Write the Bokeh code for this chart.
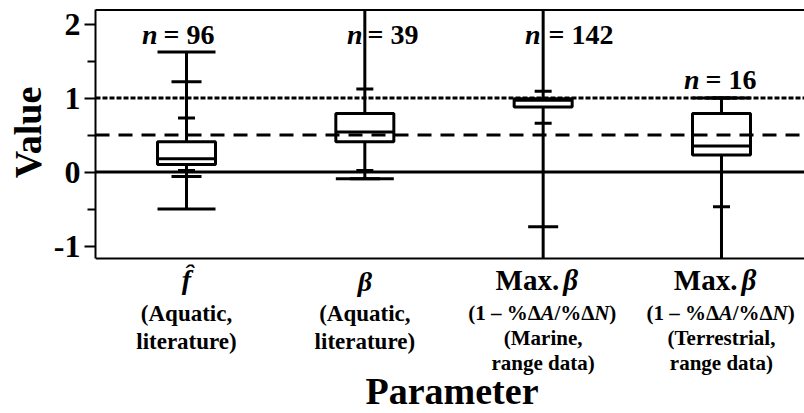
import numpy as np
from bokeh.plotting import figure
from bokeh.layouts import column
from bokeh.models import ColumnDataSource, Span, Label, FixedTicker, Range1d
from bokeh.embed import file_html
from bokeh.resources import INLINE

# ---------------- data ----------------
positions = [1, 2, 3, 4]
n_values = ["96", "39", "142", "16"]
q1 = [0.10, 0.41, 0.88, 0.23]
median = [0.18, 0.54, 0.97, 0.35]
q3 = [0.41, 0.79, 0.99, 0.79]
# whisker ends (values beyond the axis range are not readable; they run off the plot)
whisker_low = [-0.50, -0.09, -1.50, -1.50]
whisker_high = [1.62, 2.40, 2.40, 1.00]
p5 = [-0.06, -0.09, -0.74, -1.40]
p95 = [1.22, 2.30, 2.30, 1.00]
p10 = [0.02, 0.02, 0.66, -0.47]
p90 = [0.73, 1.12, 1.09, 1.00]
ref_zero = 0.0
ref_half = 0.5
ref_one = 1.0
y_ticks = [-1, 0, 1, 2]
y_minor = [-0.5, 0.5, 1.5]
y_tick_labels = {-1: "-1", 0: "0", 1: "1", 2: "2"}
aquatic_lines = ["(Aquatic,", "literature)"]
marine_lines = ["(Marine,", "range data)"]
terr_lines = ["(Terrestrial,", "range data)"]

# ---------------- layout helpers ----------------
FONT = "Liberation Serif"
PX_X = 178.33   # px per x unit
PX_Y = 74.0     # px per y unit
FRAME_LEFT = 95
W = 804
H_TOP = 264
H_BOT = 413 - H_TOP
X0 = positions[0] - (186 - FRAME_LEFT) / PX_X
X1 = X0 + (W - FRAME_LEFT) / PX_X
Y1 = 171.5 / PX_Y
Y0 = Y1 - H_TOP / PX_Y
BASE_SHIFT = 0.38  # Bokeh places the alphabetic baseline somewhat lower


def px2x(px):
    return X0 + (px - FRAME_LEFT) / PX_X


def px2y(py):
    return Y1 - py / PX_Y


yb_lo, yb_hi = px2y(258), px2y(9)


def visible(vals):
    return [v if yb_lo <= v <= yb_hi else np.nan for v in vals]


def clipped(vals):
    return list(np.clip(np.array(vals, dtype=float), yb_lo, yb_hi))


# ---------------- main plot ----------------
p = figure(width=W, height=H_TOP, x_range=Range1d(X0, X1), y_range=Range1d(Y0, Y1),
           output_backend="svg", toolbar_location=None, x_axis_location=None,
           min_border_left=FRAME_LEFT, min_border_right=0, min_border_top=0,
           min_border_bottom=0)
p.title.visible = False
p.outline_line_color = None
p.xgrid.visible = False
p.ygrid.visible = False

ax = p.yaxis[0]
ax.ticker = FixedTicker(ticks=y_ticks, minor_ticks=y_minor)
ax.bounds = (yb_lo, yb_hi)
ax.major_label_overrides = y_tick_labels
ax.axis_line_width = 2
ax.axis_line_color = "black"
ax.major_tick_out = 11
ax.major_tick_in = 0
ax.minor_tick_out = 8
ax.minor_tick_in = 0
ax.major_tick_line_width = 2
ax.minor_tick_line_width = 2
ax.major_label_text_font = FONT
ax.major_label_text_font_style = "bold"
ax.major_label_text_font_size = "32px"
ax.major_label_text_color = "black"
ax.major_label_standoff = 4
ax.axis_label = "Value"
ax.axis_label_text_font = FONT
ax.axis_label_text_font_style = "bold"
ax.axis_label_text_font_size = "38px"
ax.axis_label_text_color = "black"
ax.axis_label_standoff = 2

# reference lines and frame lines
p.add_layout(Span(location=ref_zero, dimension="width", line_color="black", line_width=3))
p.add_layout(Span(location=ref_one, dimension="width", line_color="black", line_width=3,
                  line_dash="5 2"))
p.add_layout(Span(location=ref_half, dimension="width", line_color="black", line_width=3,
                  line_dash="14 9"))
p.add_layout(Span(location=px2y(9.5), dimension="width", line_color="black", line_width=2))
p.add_layout(Span(location=px2y(258), dimension="width", line_color="black", line_width=2))

BOX_HW = 29 / PX_X
MED_HW = 15 / PX_X
SHORT_HW = 8.5 / PX_X

src = ColumnDataSource(dict(
    x=positions, q1=q1, q3=q3, med=median,
    lo=clipped(whisker_low), hi=clipped(whisker_high),
    lo_cap=visible(whisker_low), hi_cap=visible(whisker_high),
    p5=visible(p5), p95=visible(p95), p10=visible(p10), p90=visible(p90),
    bl=[v - BOX_HW for v in positions], br=[v + BOX_HW for v in positions],
    ml=[v - MED_HW for v in positions], mr=[v + MED_HW for v in positions],
    sl=[v - SHORT_HW for v in positions], sr=[v + SHORT_HW for v in positions],
))

LW = 3
kw = dict(source=src, line_color="black", line_width=LW)
p.segment(x0="x", y0="q3", x1="x", y1="hi", **kw)
p.segment(x0="x", y0="q1", x1="x", y1="lo", **kw)
p.segment(x0="bl", y0="hi_cap", x1="br", y1="hi_cap", **kw)
p.segment(x0="bl", y0="lo_cap", x1="br", y1="lo_cap", **kw)
p.segment(x0="ml", y0="p95", x1="mr", y1="p95", **kw)
p.segment(x0="ml", y0="p5", x1="mr", y1="p5", **kw)
p.segment(x0="sl", y0="p90", x1="sr", y1="p90", **kw)
p.segment(x0="sl", y0="p10", x1="sr", y1="p10", **kw)
p.quad(left="bl", right="br", bottom="q1", top="q3", fill_alpha=0.0, **kw)
p.segment(x0="bl", y0="med", x1="br", y1="med", **kw)


def lab(fig, x, y, text, size, style="bold", align="center"):
    fig.add_layout(Label(x=x, y=y, text=text, text_font=FONT, text_font_style=style,
                         text_font_size="%dpx" % size, text_align=align,
                         text_baseline="alphabetic", text_color="black"))


# n labels (baselines in page px)
n_right_px = [157, 362, 540, 699]
eq_left_px = [163, 367, 548, 705]
n_base_px = [42, 42, 42, 87]
for nv, r, l, b in zip(n_values, n_right_px, eq_left_px, n_base_px):
    yy = px2y(b + 2.5 - BASE_SHIFT * 28)
    lab(p, px2x(r), yy, "n", 28, "bold italic", "right")
    lab(p, px2x(l), yy, "= " + nv, 28, "bold", "left")

# ---------------- category labels panel (frames are aligned by the column) ----------------
q = figure(width=W, height=H_BOT, x_range=p.x_range,
           y_range=Range1d(H_BOT, 0), output_backend="svg", toolbar_location=None,
           x_axis_location=None, y_axis_location=None,
           min_border_left=FRAME_LEFT, min_border_right=0, min_border_top=0,
           min_border_bottom=0)
q.title.visible = False
q.outline_line_color = None
q.xgrid.visible = False
q.ygrid.visible = False


def by(py, size, extra=0.0):
    return py + 4 - H_TOP - BASE_SHIFT * size - extra


cx_px = [FRAME_LEFT + (v - X0) * PX_X for v in positions]
lab(q, positions[0], by(287, 28, 1.5), "f\u0302", 28, "bold italic")
lab(q, positions[1], by(288, 28), "\u03b2", 28, "bold italic")
for i in (0, 1):
    lab(q, positions[i], by(318, 23), aquatic_lines[0], 23)
    lab(q, positions[i], by(346, 23), aquatic_lines[1], 23)

piece_texts = ["(1 \u2013 %\u0394", "A", "/%\u0394", "N", ")"]
piece_styles = ["bold", "bold italic", "bold", "bold italic", "bold"]
piece_offsets = [0, 72.3, 86.3, 126.0, 141.2]
for i, lines in ((2, marine_lines), (3, terr_lines)):
    c = cx_px[i]
    lab(q, px2x(c + 16), by(287, 29), "Max.", 29, "bold", "right")
    lab(q, px2x(c + 20), by(287, 29), "\u03b2", 29, "bold italic", "left")
    start = c - 75
    for t, s, o in zip(piece_texts, piece_styles, piece_offsets):
        lab(q, px2x(start + o), by(316, 21), t, 21, s, "left")
    lab(q, positions[i], by(341, 21), lines[0], 21)
    lab(q, positions[i], by(366, 21), lines[1], 21)

lab(q, px2x(451.5), by(401, 38), "Parameter", 38)

layout = column(p, q, spacing=0)
open("out.html", "w").write(file_html(layout, INLINE))
